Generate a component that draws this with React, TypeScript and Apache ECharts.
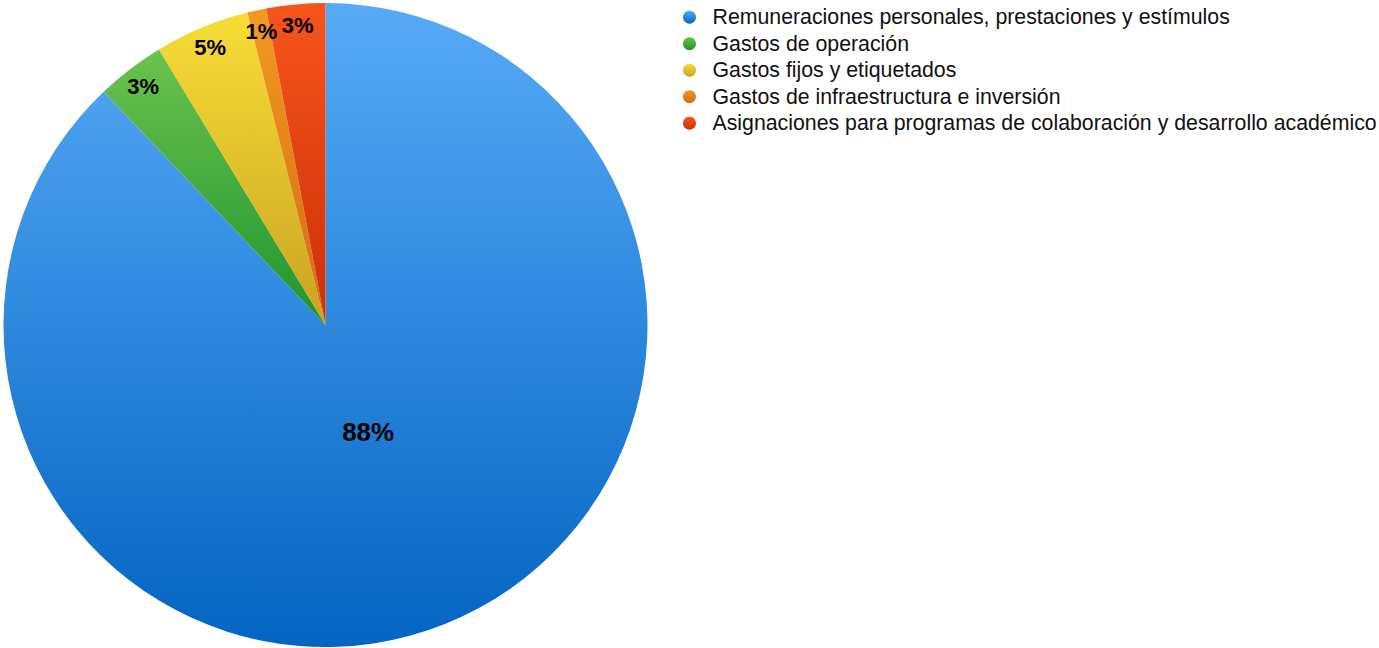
import React, { useEffect, useRef } from "react";
import * as echarts from "echarts";

const categories = [
  "Remuneraciones personales, prestaciones y estímulos",
  "Gastos de operación",
  "Gastos fijos y etiquetados",
  "Gastos de infraestructura e inversión",
  "Asignaciones para programas de colaboración y desarrollo académico",
];
const values = [87.9, 3.45, 4.75, 0.95, 2.95];
const topColors = ["#57abf7", "#6cc24e", "#f8dd36", "#f19a22", "#f7551b"];
const bottomColors = ["#0464c2", "#1e952e", "#c9a322", "#d66a10", "#cc2f0a"];

const CX = 325.5;
const CY = 325;
const R = 322;

export default function App() {
  const ref = useRef<HTMLDivElement>(null);
  useEffect(() => {
    if (!ref.current) return;
    const chart = echarts.init(ref.current, undefined, { renderer: "svg" });
    const total = values.reduce((a, b) => a + b, 0);
    const mids: number[] = [];
    let acc = 0;
    values.forEach((v) => {
      mids.push(((acc + v / 2) / total) * 2 * Math.PI);
      acc += v;
    });
    const font = "'Liberation Sans', Arial, Helvetica, sans-serif";
    const data = categories.map((name, i) => {
      const big = values[i] / total > 0.5;
      return {
        name,
        value: values[i],
        label: { fontSize: big ? 26 : 22 },
        itemStyle: {
          color: new echarts.graphic.LinearGradient(0, 0, 0, 1, [
            { offset: 0, color: topColors[i] },
            { offset: 1, color: bottomColors[i] },
          ]),
        },
      };
    });
    chart.setOption({
      animation: false,
      legend: {
        orient: "vertical",
        left: 678,
        top: 1.5,
        icon: "circle",
        itemWidth: 36,
        itemHeight: 13,
        itemGap: 5.2,
        symbolKeepAspect: true,
        selectedMode: false,
        textStyle: {
          fontFamily: font,
          fontSize: 21.3,
          lineHeight: 21.3,
          color: "#111",
        },
        data: categories,
      },
      series: [
        {
          type: "pie",
          center: [CX, CY],
          radius: [0, R],
          startAngle: 90,
          clockwise: true,
          avoidLabelOverlap: false,
          itemStyle: { borderWidth: 0 },
          emphasis: { disabled: true },
          label: {
            show: true,
            position: "inside",
            formatter: (p: any) => Math.round(p.percent) + "%",
            fontFamily: font,
            fontWeight: "bold",
            fontSize: 22,
            color: "#000",
          },
          labelLine: { show: false },
          labelLayout: (params: any) => {
            const i = params.dataIndex;
            const frac = values[i] / total;
            const r = frac > 0.5 ? R * 0.357 : R * 0.933;
            const a = mids[i];
            return {
              x: CX + r * Math.sin(a),
              y: CY - r * Math.cos(a),
              align: "center",
              verticalAlign: "middle",
            };
          },
          data,
        },
      ],
    });
    return () => chart.dispose();
  }, []);
  return (
    <div
      ref={ref}
      style={{ position: "fixed", left: 0, top: 0, width: 1379, height: 648, background: "#fff" }}
    />
  );
}
